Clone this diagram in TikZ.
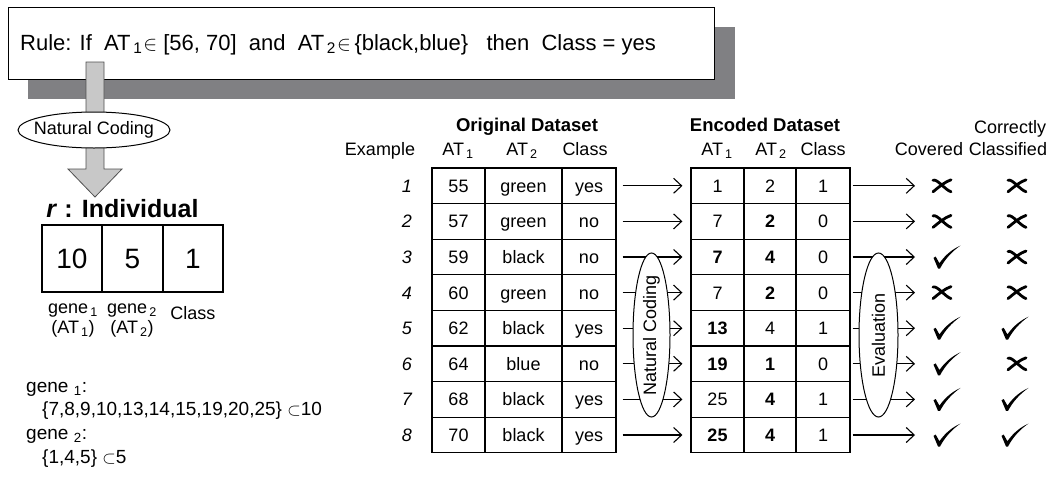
\documentclass[tikz,border=0pt]{standalone}
\usepackage{fontspec}
\setmainfont{Liberation Sans}
\usetikzlibrary{arrows.meta,shapes.geometric}
\newcommand\fsz[1]{\fontsize{#1}{#1}\selectfont}
\newcommand\sbs[1]{\kern0.12em\textsubscript{#1}}
\definecolor{shadowgray}{RGB}{128,128,131}
\definecolor{barfill}{RGB}{200,200,200}
\definecolor{barline}{RGB}{80,80,80}
\begin{document}
\begin{tikzpicture}[x=1pt,y=-1pt,
  cellb/.style={draw,line width=1.2pt,minimum height=35.6pt,inner sep=0pt,
    text height=13pt,text depth=0pt,font=\fsz{18}},
  conn/.style={line width=1.1pt,-{Straight Barb[length=8pt,width=15pt,line width=1.1pt]}},
  lbl/.style={font=\fsz{18},inner sep=0pt},
  hdr/.style={font=\bfseries\fsz{18.5},inner sep=0pt},
  ellb/.style={ellipse,draw,fill=white,line width=1pt,inner sep=0pt},
  pics/chk/.style={code={\fill (-13.5,0.8) -- (-11.3,-0.4) -- (-7.6,6.2)
      .. controls (-1,-3) and (6,-8) .. (13.5,-11.5)
      .. controls (5,-5.5) and (-2,2) .. (-7,11.5) -- (-9,11.5) -- cycle;}},
  pics/crs/.style={code={\draw[line width=2.8pt,line cap=round]
      (-9,-5.5) .. controls (-5,-7.5) and (3,4) .. (9,6)
      (-9,6) .. controls (-3,1) and (3,-4) .. (9,-6);}},
]
\useasboundingbox (0,0) rectangle (1055,477);

% rule box with shadow
\fill[shadowgray] (28,27) rectangle (735,99);
\node[draw,fill=white,line width=1pt,minimum width=706pt,minimum height=72pt,
  anchor=north west,inner sep=0pt] (rule) at (8,7) {};
\node[anchor=base west,inner sep=0pt,font=\fsz{22}] (rtxt) at (20,50)
  {Rule: If\ \ AT\sbs{1}\kern1pt$\in$ [56, 70]\ \ and\ \ AT\sbs{2}\kern1pt$\in$\,\{black,blue\}\ \ \ then\ \ Class = yes};

% block arrow
\filldraw[fill=barfill,draw=barline,line width=0.8pt]
  (86,62) -- (104,62) -- (104,169) -- (122,169) -- (95,197) -- (68,169) -- (86,169) -- cycle;
\node[ellb,minimum width=152pt,minimum height=36pt] (nctop) at (94,130) {};
\node[lbl] (nctopt) at (nctop.center) {Natural Coding};

% individual
\node[font=\bfseries\fsz{25},inner sep=0pt] (indt) at (122.5,208.5) {\textit{r} : Individual};
\node[cellb,minimum width=60pt,minimum height=67pt,font=\fsz{28},text height=20pt] (g1) at (72,258.5) {10};
\node[cellb,minimum width=61pt,minimum height=67pt,font=\fsz{28},text height=20pt] (g2) at (132.5,258.5) {5};
\node[cellb,minimum width=60pt,minimum height=67pt,font=\fsz{28},text height=20pt] (g3) at (193,258.5) {1};
\node[align=center,inner sep=0pt,font=\fontsize{18}{20}\selectfont] (l1) at (73,321) {gene\sbs{1}\\(AT\sbs{1})};
\node[align=center,inner sep=0pt,font=\fontsize{18}{20}\selectfont] (l2) at (132,321) {gene\sbs{2}\\(AT\sbs{2})};
\node[lbl] (l3) at (193,313) {Class};

% gene sets
\node[lbl,anchor=base west,font=\fsz{19}] (s1) at (26,392) {gene\,\sbs{1}:};
\node[lbl,anchor=base west,font=\fsz{19}] (s2) at (42,415) {\{7,8,9,10,13,14,15,19,20,25\} $\subset$10};
\node[lbl,anchor=base west,font=\fsz{19}] (s3) at (26,439) {gene\,\sbs{2}:};
\node[lbl,anchor=base west,font=\fsz{19}] (s4) at (42,463) {\{1,4,5\} $\subset$5};

% headers
\node[hdr,anchor=base] (odh) at (527,131.5) {Original Dataset};
\node[hdr,anchor=base] (edh) at (765,131.5) {Encoded Dataset};
\node[lbl,anchor=base] (hex) at (380,155.5) {Example};
\node[lbl,anchor=base] (ho1) at (458,155.5) {AT\sbs{1}};
\node[lbl,anchor=base] (ho2) at (522,155.5) {AT\sbs{2}};
\node[lbl,anchor=base] (ho3) at (585,155.5) {Class};
\node[lbl,anchor=base] (he1) at (717,155.5) {AT\sbs{1}};
\node[lbl,anchor=base] (he2) at (771,155.5) {AT\sbs{2}};
\node[lbl,anchor=base] (he3) at (823,155.5) {Class};
\node[lbl,anchor=base] (hcov) at (929,155.5) {Covered};
\node[lbl,anchor=base] (hcc1) at (1010,133.5) {Correctly};
\node[lbl,anchor=base] (hcc2) at (1008,155.5) {Classified};

% rows
\foreach \i/\a/\b/\c/\p/\q/\r in {
  1/55/green/yes/1/2/1,
  2/57/green/no/7/\textbf{2}/0,
  3/59/black/no/\textbf{7}/\textbf{4}/0,
  4/60/green/no/7/\textbf{2}/0,
  5/62/black/yes/\textbf{13}/4/1,
  6/64/blue/no/\textbf{19}/\textbf{1}/0,
  7/68/black/yes/25/\textbf{4}/1,
  8/70/black/yes/\textbf{25}/\textbf{4}/1}{
  \pgfmathsetmacro\yy{168+35.6*(\i-0.5)}
  \node[cellb,minimum width=53pt] (oa\i) at (458.5,\yy) {\a};
  \node[cellb,minimum width=77pt] (ob\i) at (523.5,\yy) {\b};
  \node[cellb,minimum width=54pt] (oc\i) at (589,\yy) {\c};
  \node[cellb,minimum width=53pt] (ea\i) at (717.5,\yy) {\p};
  \node[cellb,minimum width=52pt] (eb\i) at (770,\yy) {\q};
  \node[cellb,minimum width=54pt] (ec\i) at (823,\yy) {\r};
  \node[lbl,anchor=base,font=\itshape\fsz{18}] (n\i) at (407,\yy+6.5) {\i};
  \coordinate (t\i) at (915,\yy);
  \draw[conn] ([xshift=6pt]oc\i.east) -- ([xshift=-8pt]ea\i.west);
  \draw[conn] ([xshift=2pt]ec\i.east) -- (t\i);
}
\foreach \i in {3,5,6,7,8} {\pgfmathsetmacro\yy{168+35.6*(\i-0.5)} \pic at (947,\yy) {chk};}
\foreach \i in {1,2,4} {\pgfmathsetmacro\yy{168+35.6*(\i-0.5)} \pic at (942,\yy) {crs};}
\foreach \i in {5,7,8} {\pgfmathsetmacro\yy{168+35.6*(\i-0.5)} \pic at (1015,\yy) {chk};}
\foreach \i in {1,2,3,4,6} {\pgfmathsetmacro\yy{168+35.6*(\i-0.5)} \pic at (1017,\yy) {crs};}

% vertical ellipses
\node[ellb,minimum width=37pt,minimum height=164pt] (ncv) at (651.5,335) {};
\node[lbl,rotate=90] (ncvt) at (ncv.center) {Natural Coding};
\node[ellb,minimum width=39pt,minimum height=164pt] (ev) at (878.5,335) {};
\node[lbl,rotate=90] (evt) at (ev.center) {Evaluation};
\end{tikzpicture}
\end{document}
